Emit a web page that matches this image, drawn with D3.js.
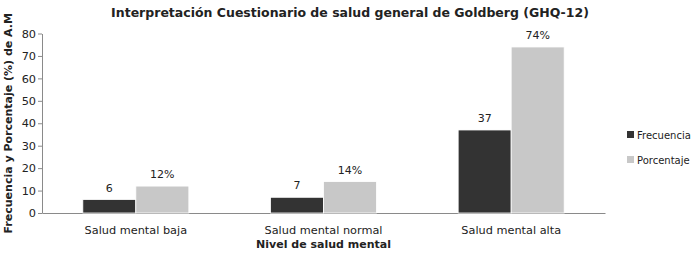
<!DOCTYPE html>
<html>
<head>
<meta charset="utf-8">
<script src="https://cdn.jsdelivr.net/npm/d3@7"></script>
<style>
  body { margin: 0; background: #fff; }
  svg text { font-family: "DejaVu Sans", sans-serif; fill: #222; }
  .axis path, .axis line { stroke: #8a8a8a; }
  .axis text { font-size: 11.3px; }
  .title { font-size: 12.5px; font-weight: bold; }
  .axis-label { font-size: 11px; font-weight: bold; }
  .val { font-size: 11px; }
</style>
</head>
<body>
<svg id="chart" width="700" height="256"></svg>
<script>
// data
const categories = ["Salud mental baja", "Salud mental normal", "Salud mental alta"];
const seriesNames = ["Frecuencia", "Porcentaje"];
const frecuencia = [6, 7, 37];
const porcentaje = [12, 14, 74];
const yTicks = [0, 10, 20, 30, 40, 50, 60, 70, 80];
const colors = ["#333333", "#c8c8c8"];

const svg = d3.select("#chart");
const margin = { top: 33.5, left: 42 };
const innerW = 605 - margin.left;
const innerH = 213 - margin.top;

const g = svg.append("g").attr("transform", `translate(${margin.left},${margin.top})`);

const x0 = d3.scaleBand().domain(categories).range([0, innerW]).paddingInner(0.435).paddingOuter(0.2175);
const x1 = d3.scaleBand().domain(seriesNames).range([0, x0.bandwidth()]);
const y = d3.scaleLinear().domain([0, 80]).range([innerH, 0]);

// axes
const yAxis = d3.axisLeft(y).tickValues(yTicks).tickSize(4).tickSizeOuter(0);
g.append("g").attr("class", "axis").call(yAxis)
  .call(s => s.selectAll("text").attr("x", -6));

const xAxis = d3.axisBottom(x0).tickSize(0).tickSizeOuter(0);
g.append("g").attr("class", "axis").attr("transform", `translate(0,${innerH})`).call(xAxis)
  .call(s => s.selectAll("text").attr("dy", "1.6em"));

// bars
const rows = categories.map((c, i) => ({ cat: c, vals: [frecuencia[i], porcentaje[i]] }));
const grp = g.selectAll(".grp").data(rows).enter().append("g")
  .attr("transform", d => `translate(${x0(d.cat)},0)`);

grp.selectAll("rect").data(d => d.vals.map((v, j) => ({ s: seriesNames[j], v, j })))
  .enter().append("rect")
  .attr("x", d => x1(d.s))
  .attr("y", d => y(d.v))
  .attr("width", x1.bandwidth())
  .attr("height", d => innerH - y(d.v))
  .attr("fill", d => colors[d.j])
  .attr("stroke", "#fff").attr("stroke-width", 0.8);

grp.selectAll(".val").data(d => d.vals.map((v, j) => ({ s: seriesNames[j], v, j })))
  .enter().append("text").attr("class", "val")
  .attr("x", d => x1(d.s) + x1.bandwidth() / 2)
  .attr("y", d => y(d.v) - 8)
  .attr("text-anchor", "middle")
  .text(d => d.j === 1 ? d.v + "%" : d.v);

// titles
svg.append("text").attr("class", "title")
  .attr("x", 350).attr("y", 17).attr("text-anchor", "middle")
  .text("Interpretación Cuestionario de salud general de Goldberg (GHQ-12)");

svg.append("text").attr("class", "axis-label")
  .attr("x", margin.left + innerW / 2).attr("y", 248).attr("text-anchor", "middle")
  .text("Nivel de salud mental");

svg.append("text").attr("class", "axis-label")
  .attr("transform", "rotate(-90)")
  .attr("x", -(margin.top + innerH / 2) + 0).attr("y", 12).attr("text-anchor", "middle")
  .text("Frecuencia y Porcentaje (%) de A.M");

// legend
const leg = svg.append("g").attr("transform", "translate(627,131)");
seriesNames.forEach((n, i) => {
  leg.append("rect").attr("x", 0).attr("y", i * 25).attr("width", 7).attr("height", 7).attr("fill", colors[i]);
  leg.append("text").attr("x", 10).attr("y", i * 25 + 8).attr("font-size", 10).text(n);
});
</script>
</body>
</html>
